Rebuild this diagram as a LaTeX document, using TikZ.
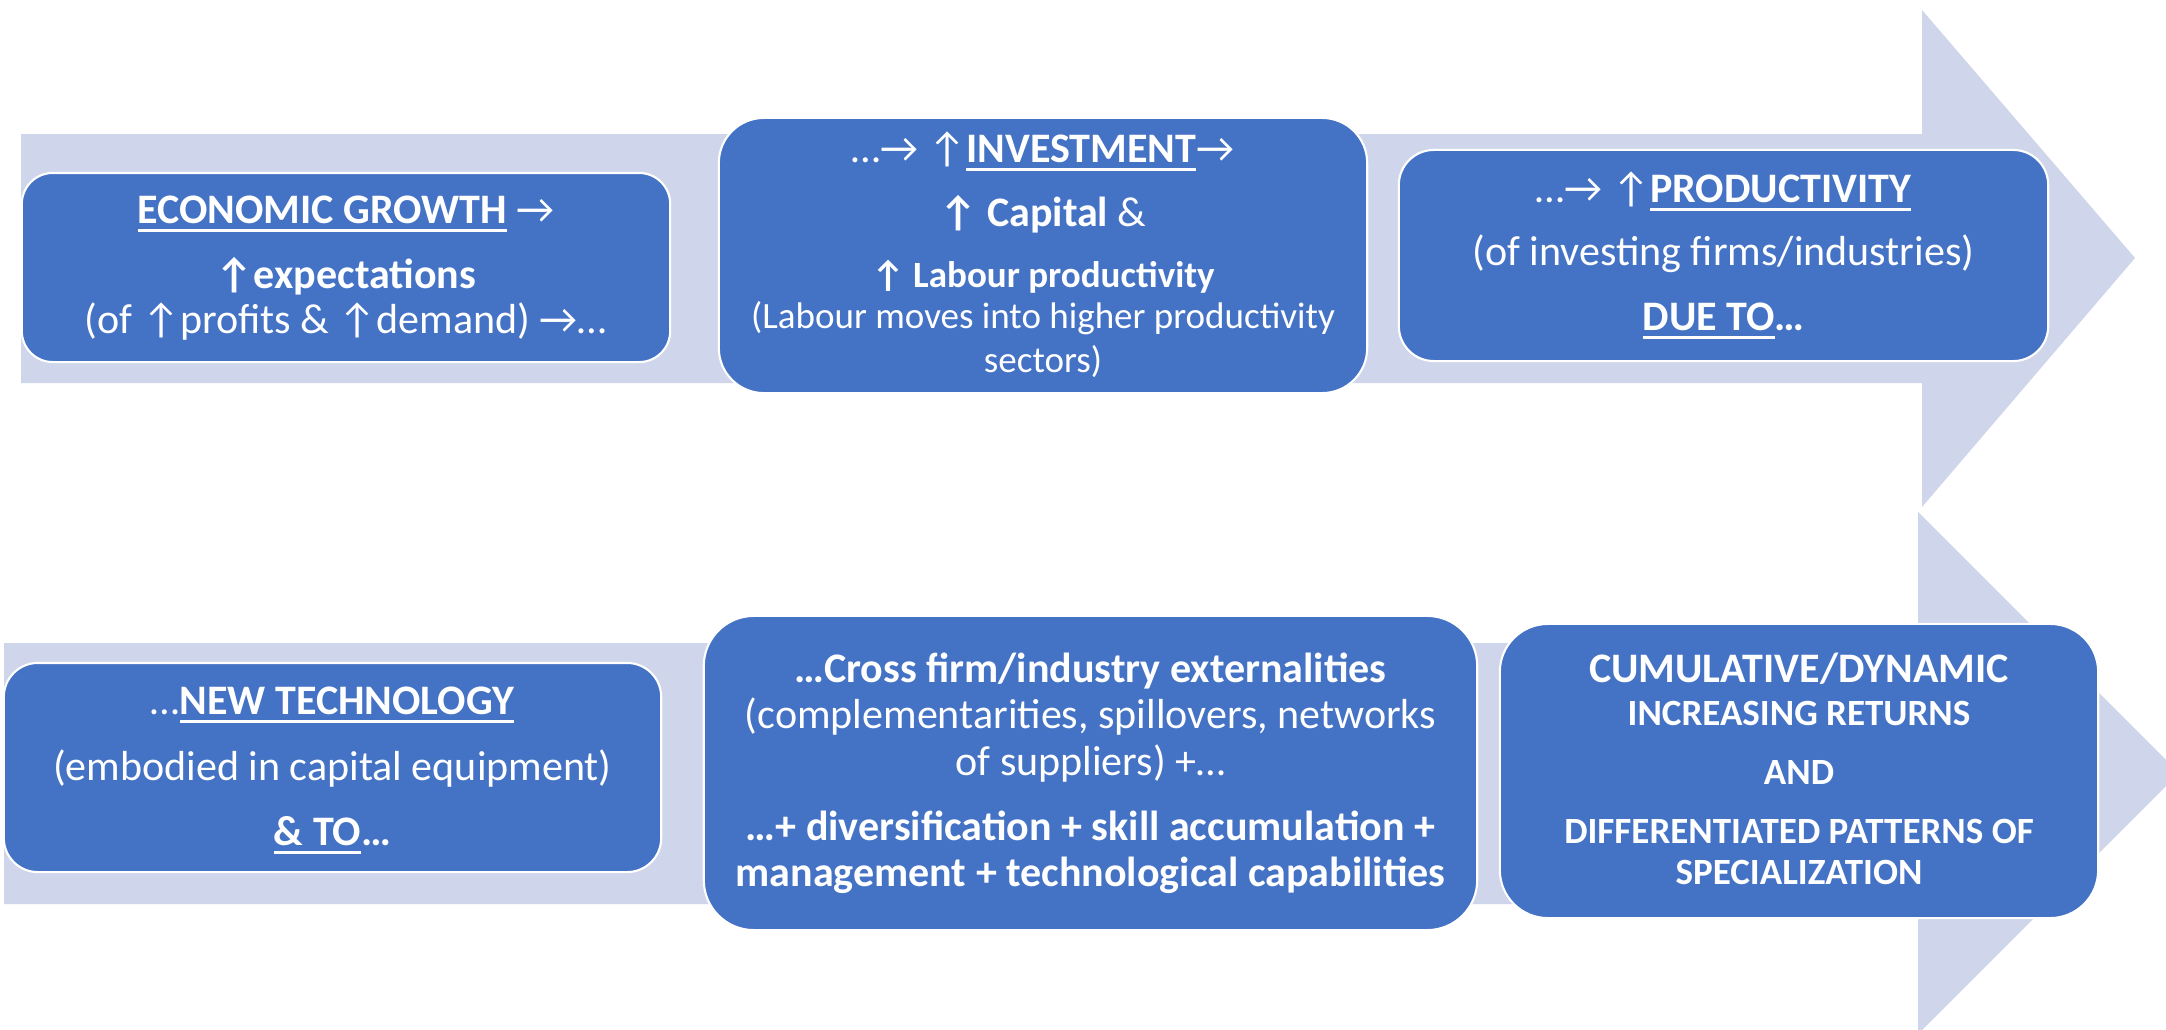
\documentclass[tikz,border=0pt]{standalone}
\usepackage{fontspec}
\setmainfont{Carlito}
\definecolor{boxblue}{HTML}{4472C4}
\definecolor{bandlilac}{HTML}{CFD5EA}
% underline drawn at a fixed depth below the baseline
\newcommand\ulin[1]{\sbox0{#1}\rlap{\rule[-0.085cm]{\wd0}{0.028cm}}\usebox0}
\tikzset{
  blockbox/.style={draw=white, line width=0.6pt, fill=boxblue, rounded corners=#1, inner sep=0pt},
  bigtxt/.style={text=white, inner sep=0pt, anchor=base, font=\fontsize{11.95}{14}\selectfont},
  smalltxt/.style={text=white, inner sep=0pt, anchor=base, font=\fontsize{10.53}{12.5}\selectfont},
}
\begin{document}
\begin{tikzpicture}[x=0.01cm, y=-0.01cm]
\useasboundingbox (0,0) rectangle (2166,1030);
\fill[white] (0,0) rectangle (2166,1030);
\clip (0,0) rectangle (2166,1030);

% background block arrows
\fill[bandlilac] (21,134) -- (1922,134) -- (1922,10) -- (2135,258) -- (1922,507)
  -- (1922,383) -- (21,383) -- cycle;
\fill[bandlilac] (4,643) -- (1918,643) -- (1918,512) -- (2179,773) -- (1918,1034)
  -- (1918,904) -- (4,904) -- cycle;

% top row boxes
\node[blockbox=0.31cm, minimum width=6.48cm, minimum height=1.89cm] (box1) at (346,267.5) {};
\node[blockbox=0.45cm, minimum width=6.48cm, minimum height=2.75cm] (box2) at (1043,255.5) {};
\node[blockbox=0.35cm, minimum width=6.49cm, minimum height=2.11cm] (box3) at (1723.5,255.5) {};
% bottom row boxes
\node[blockbox=0.34cm, minimum width=6.57cm, minimum height=2.09cm] (box4) at (332.5,767.5) {};
\node[blockbox=0.50cm, minimum width=7.73cm, minimum height=3.14cm] (box5) at (1090.5,773) {};
\node[blockbox=0.48cm, minimum width=5.98cm, minimum height=2.94cm] (box6) at (1799,771) {};

% box 1
\node[bigtxt] (t1a) at (346,223) {\textbf{\ulin{ECONOMIC GROWTH}} →};
\node[bigtxt] (t1b) at (346,288) {\textbf{↑expectations}};
\node[bigtxt] (t1c) at (346,333) {(of ↑profits \& ↑demand) →…};

% box 2
\node[bigtxt] (t2a) at (1043,162) {…→ ↑\textbf{\ulin{INVESTMENT}}→};
\node[bigtxt] (t2b) at (1043,226) {\textbf{↑ Capital} \&};
\node[smalltxt] (t2c) at (1043,287) {\textbf{↑ Labour productivity}};
\node[smalltxt] (t2d) at (1043,328) {(Labour moves into higher productivity};
\node[smalltxt] (t2e) at (1043,372) {sectors)};

% box 3
\node[bigtxt] (t3a) at (1723.5,202) {…→ ↑\textbf{\ulin{PRODUCTIVITY}}};
\node[bigtxt] (t3b) at (1723.5,265) {(of investing firms/industries)};
\node[bigtxt] (t3c) at (1723.5,330) {\textbf{\ulin{DUE TO}…}};

% box 4
\node[bigtxt] (t4a) at (332.5,714) {…\textbf{\ulin{NEW TECHNOLOGY}}};
\node[bigtxt] (t4b) at (332.5,780) {(embodied in capital equipment)};
\node[bigtxt] (t4c) at (332.5,845) {\textbf{\ulin{\& TO}…}};

% box 5
\node[bigtxt] (t5a) at (1090.5,682) {\textbf{…Cross firm/industry externalities}};
\node[bigtxt] (t5b) at (1090.5,728) {(complementarities, spillovers, networks};
\node[bigtxt] (t5c) at (1090.5,775) {of suppliers) +…};
\node[bigtxt] (t5d) at (1090.5,840) {\textbf{…+ diversification + skill accumulation +}};
\node[bigtxt] (t5e) at (1090.5,886) {\textbf{management + technological capabilities}};

% box 6
\node[bigtxt] (t6a) at (1799,682) {\textbf{CUMULATIVE/DYNAMIC}};
\node[smalltxt] (t6b) at (1799,725) {\textbf{INCREASING RETURNS}};
\node[smalltxt] (t6c) at (1799,784) {\textbf{AND}};
\node[smalltxt] (t6d) at (1799,843) {\textbf{DIFFERENTIATED PATTERNS OF}};
\node[smalltxt] (t6e) at (1799,884) {\textbf{SPECIALIZATION}};
\end{tikzpicture}
\end{document}
